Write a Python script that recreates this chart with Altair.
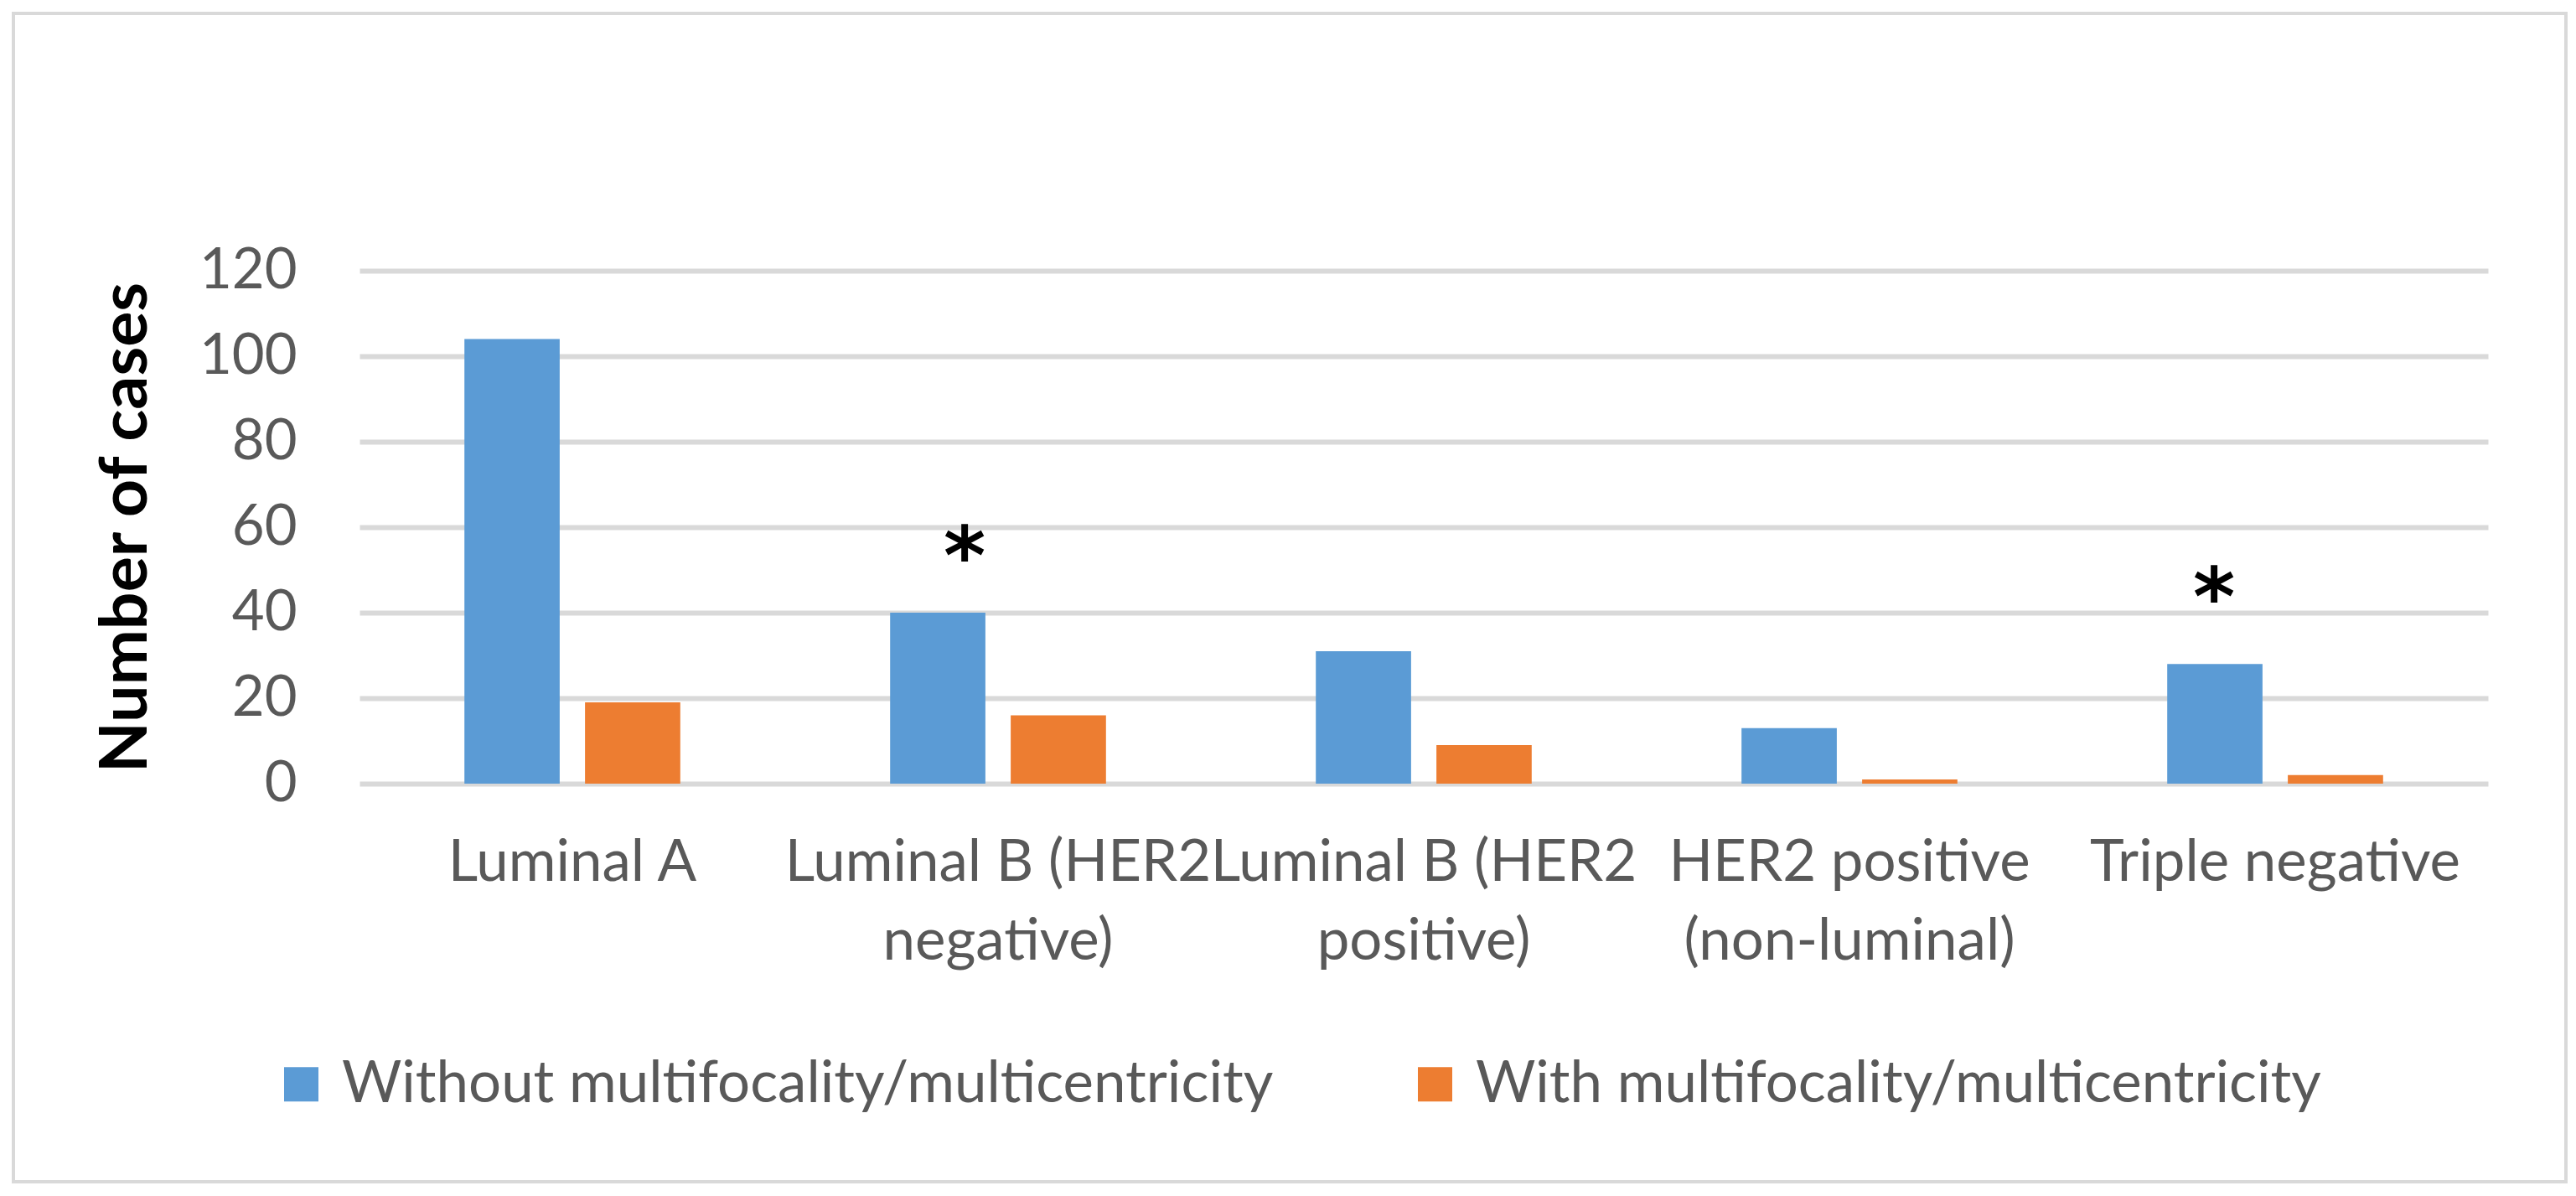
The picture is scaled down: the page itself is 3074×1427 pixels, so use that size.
import altair as alt
import pandas as pd

categories = [
    "Luminal A",
    "Luminal B (HER2\nnegative)",
    "Luminal B (HER2\npositive)",
    "HER2 positive\n(non-luminal)",
    "Triple negative",
]
series_names = ["Without multifocality/multicentricity", "With multifocality/multicentricity"]
without_vals = [104, 40, 31, 13, 28]
with_vals = [19, 16, 9, 1, 2]
y_ticks = [0, 20, 40, 60, 80, 100, 120]
colors = ["#5B9BD5", "#ED7D31"]

# significance markers (category, height on value axis)
star_cats = [categories[1], categories[4]]
star_vals = [56.7, 47.1]

rows = []
for c, a, b in zip(categories, without_vals, with_vals):
    rows.append({"category": c, "series": series_names[0], "value": a})
    rows.append({"category": c, "series": series_names[1], "value": b})
df = pd.DataFrame(rows)

FONT = "Lato"
GRAY = "#595959"

x_enc = alt.X(
    "category:N",
    sort=categories,
    scale=alt.Scale(paddingInner=0, paddingOuter=0),
    axis=alt.Axis(
        title=None,
        labelExpr="split(datum.label, '\\n')",
        labelAngle=0,
        ticks=False,
        domain=False,
        grid=False,
        labelFont=FONT,
        labelFontSize=69,
        labelColor=GRAY,
        labelPadding=60,
        labelLineHeight=94,
        labelLimit=1000,
    ),
)

y_enc = alt.Y(
    "value:Q",
    scale=alt.Scale(domain=[0, 120], nice=False),
    axis=alt.Axis(
        values=y_ticks,
        title="Number of cases",
        titleFont=FONT,
        titleFontSize=79,
        titleFontWeight="bold",
        titleColor="#000000",
        titlePadding=46,
        grid=True,
        gridColor="#D9D9D9",
        gridWidth=6,
        domain=False,
        ticks=False,
        labelFont=FONT,
        labelFontSize=67,
        labelColor=GRAY,
        labelPadding=75,
    ),
)

bars = alt.Chart(df).mark_bar().encode(
    x=x_enc,
    y=y_enc,
    xOffset=alt.XOffset(
        "series:N",
        sort=series_names,
        scale=alt.Scale(paddingInner=0.21, paddingOuter=0.87),
    ),
    color=alt.Color(
        "series:N",
        sort=series_names,
        scale=alt.Scale(domain=series_names, range=colors),
        legend=alt.Legend(
            title=None,
            orient="none",
            direction="horizontal",
            legendX=-104,
            legendY=936,
            symbolType="square",
            symbolSize=1681,
            symbolStrokeWidth=0,
            labelFont=FONT,
            labelFontSize=69,
            labelColor=GRAY,
            labelOffset=14,
            columnPadding=158,
            padding=0,
            labelLimit=2000,
        ),
    ),
)

stars_df = pd.DataFrame({"category": star_cats, "value": star_vals})
star1 = alt.Chart(stars_df[stars_df.category == star_cats[0]]).mark_text(
    text="*", font="DejaVu Sans", fontWeight="bold", fontSize=96, color="#000000",
    baseline="middle", dx=-40, dy=22
).encode(x=alt.X("category:N", sort=categories), y=alt.Y("value:Q"))
star2 = alt.Chart(stars_df[stars_df.category == star_cats[1]]).mark_text(
    text="*", font="DejaVu Sans", fontWeight="bold", fontSize=96, color="#000000",
    baseline="middle", dx=-73, dy=22
).encode(x=alt.X("category:N", sort=categories), y=alt.Y("value:Q"))

frame = alt.Chart(alt.Data(values=[{}])).mark_rect(
    fill=None, stroke="#D9D9D9", strokeWidth=4
).encode(
    x=alt.value(-413), x2=alt.value(2633), y=alt.value(-307), y2=alt.value(1087)
)

chart = alt.layer(frame, bars, star1, star2).properties(
    width=2540,
    height=612,
    autosize=alt.AutoSizeParams(type="none"),
    padding={"left": 421, "top": 315, "right": 97, "bottom": 480},
    background="white",
).configure_view(stroke=None)

chart.save("out.html", embed_options={"renderer": "svg", "actions": False})
